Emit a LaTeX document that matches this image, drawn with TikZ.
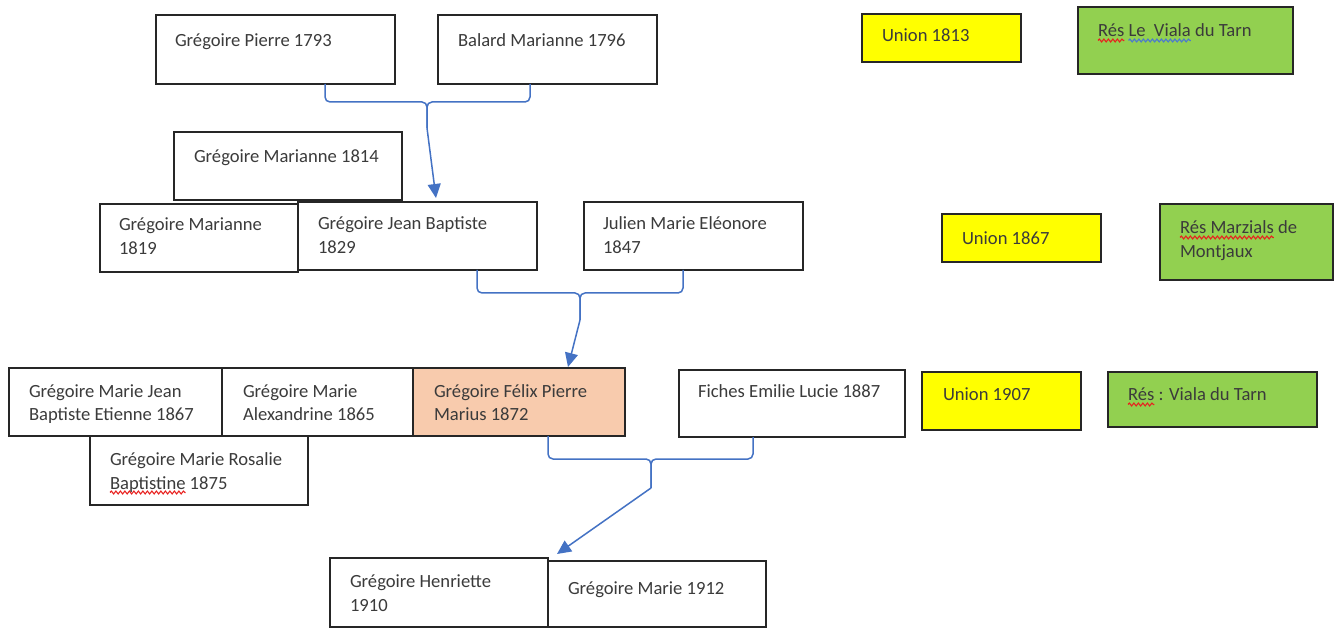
\documentclass[tikz,border=0pt]{standalone}
\usepackage{fontspec}
\setmainfont{Carlito}
\usetikzlibrary{arrows.meta,calc,decorations.pathmorphing}
\definecolor{linkblue}{HTML}{4472C4}
\definecolor{uyellow}{HTML}{FFFF00}
\definecolor{rgreen}{HTML}{92D050}
\definecolor{peach}{HTML}{F8CBAD}
\definecolor{txtgray}{HTML}{3B3B3B}
\definecolor{squigred}{HTML}{E8201E}
\definecolor{squigblue}{HTML}{4A78D0}
\newcommand\twolines[2]{\parbox[t]{300pt}{\raggedright #1\\#2}}
\newcommand\txtfont{\fontsize{18.6}{24}\selectfont}
\newlength\wRes
\newlength\wResSp
\newlength\wLeViala
\newlength\wMarz
\newlength\wBapt
\begin{document}
\settowidth{\wRes}{\txtfont Rés}
\settowidth{\wResSp}{\txtfont Rés\ }
\settowidth{\wLeViala}{\txtfont Le\ \ Viala}
\settowidth{\wMarz}{\txtfont Rés Marzials}
\settowidth{\wBapt}{\txtfont Baptistine}
\begin{tikzpicture}[x=1pt,y=-1pt,
  box/.style={draw=black!85, line width=1.4pt, fill=white, rectangle, anchor=north west, inner sep=0pt, outer sep=0pt},
  ybox/.style={box, fill=uyellow},
  gbox/.style={box, fill=rgreen},
  pbox/.style={box, fill=peach},
  txt/.style={anchor=base west, inner sep=0pt, outer sep=0pt, text=txtgray, font=\txtfont},
  link/.style={draw=linkblue, line width=1.5pt, rounded corners=5pt},
  arr/.style={draw=linkblue, line width=1.5pt, -{Triangle[length=14pt,width=13pt]}},
  squig/.style={draw=#1, line width=1.1pt, decorate, decoration={snake, segment length=4.5pt, amplitude=1.4pt}}
]
\useasboundingbox[fill=white] (0,0) rectangle (1334,628);

% generation 1
\node[box, minimum width=239pt, minimum height=69pt] (pierre) at (156,15) {};
\node[box, minimum width=219pt, minimum height=69pt] (balard) at (438,15) {};
\node[ybox, minimum width=159pt, minimum height=48pt] (u1813) at (862,14) {};
\node[gbox, minimum width=215pt, minimum height=67pt] (res1) at (1078,7) {};
\node[txt] (pierre-t) at ($(pierre.north west)+(19,32)$) {Grégoire Pierre 1793};
\node[txt] (balard-t) at ($(balard.north west)+(20,32)$) {Balard Marianne 1796};
\node[txt] (u1813-t) at ($(u1813.north west)+(20,28)$) {Union 1813};
\node[txt] (res1-t) at ($(res1.north west)+(20,30)$) {Rés Le\ \ Viala du Tarn};

% generation 2
\node[box, minimum width=228pt, minimum height=68pt] (m1814) at (174,132) {};
\node[box, minimum width=198pt, minimum height=68pt] (m1819) at (100,204) {};
\node[box, minimum width=239pt, minimum height=68pt] (jb) at (298,202) {};
\node[box, minimum width=219pt, minimum height=68pt] (julien) at (584,202) {};
\node[ybox, minimum width=159pt, minimum height=48pt] (u1867) at (942,214) {};
\node[gbox, minimum width=173pt, minimum height=76pt] (res2) at (1160,204) {};
\node[txt] (m1814-t) at ($(m1814.north west)+(20,31)$) {Grégoire Marianne 1814};
\node[txt] (m1819-t) at ($(m1819.north west)+(19,27)$) {\twolines{Grégoire Marianne}{1819}};
\node[txt] (jb-t) at ($(jb.north west)+(20,28)$) {\twolines{Grégoire Jean Baptiste}{1829}};
\node[txt] (julien-t) at ($(julien.north west)+(19,28)$) {\twolines{Julien Marie Eléonore}{1847}};
\node[txt] (u1867-t) at ($(u1867.north west)+(20,31)$) {Union 1867};
\node[txt] (res2-t) at ($(res2.north west)+(20,30)$) {\twolines{Rés Marzials de}{Montjaux}};

% generation 3
\node[box, minimum width=213pt, minimum height=68pt] (etienne) at (9,368) {};
\node[box, minimum width=191pt, minimum height=68pt] (alex) at (222,368) {};
\node[pbox, minimum width=212pt, minimum height=68pt] (felix) at (413,368) {};
\node[box, minimum width=226pt, minimum height=67pt] (fiches) at (679,370) {};
\node[ybox, minimum width=159pt, minimum height=58pt] (u1907) at (922,372) {};
\node[gbox, minimum width=209pt, minimum height=55pt] (res3) at (1108,372) {};
\node[box, minimum width=218pt, minimum height=69pt] (rosalie) at (90,436) {};
\node[txt] (etienne-t) at ($(etienne.north west)+(20,29)$) {\twolines{Grégoire Marie Jean}{Baptiste Etienne 1867}};
\node[txt] (alex-t) at ($(alex.north west)+(21,29)$) {\twolines{Grégoire Marie}{Alexandrine 1865}};
\node[txt] (felix-t) at ($(felix.north west)+(21,29)$) {\twolines{Grégoire Félix Pierre}{Marius 1872}};
\node[txt] (fiches-t) at ($(fiches.north west)+(19,28)$) {Fiches Emilie Lucie 1887};
\node[txt] (u1907-t) at ($(u1907.north west)+(21,29)$) {Union 1907};
\node[txt] (res3-t) at ($(res3.north west)+(20,29)$) {Rés : Viala du Tarn};
\node[txt] (rosalie-t) at ($(rosalie.north west)+(20,29)$) {\twolines{Grégoire Marie Rosalie}{Baptistine 1875}};

% generation 4
\node[box, minimum width=218pt, minimum height=69pt] (henriette) at (330,558) {};
\node[box, minimum width=218pt, minimum height=66pt] (marie1912) at (548,561) {};
\node[txt] (henriette-t) at ($(henriette.north west)+(20,29)$) {\twolines{Grégoire Henriette}{1910}};
\node[txt] (marie1912-t) at ($(marie1912.north west)+(20,33)$) {Grégoire Marie 1912};

% spell-check squiggles
\draw[squig=squigred] ($(res1-t.base west)+(0,3.5)$) -- ++(\wRes,0);
\draw[squig=squigblue] ($(res1-t.base west)+(\wResSp,3.5)$) -- ++(\wLeViala,0);
\draw[squig=squigred] ($(res2-t.base west)+(0,3.5)$) -- ++(\wMarz,0);
\draw[squig=squigred] ($(res3-t.base west)+(0,3.5)$) -- ++(\wRes,0);
\draw[squig=squigred] ($(rosalie-t.base west)+(0,27.5)$) -- ++(\wBapt,0);

% connectors
\coordinate (b1m) at (427,128);
\draw[link] ($(pierre.south west)+(169,0)$) -- ++(0,18) -| (b1m);
\draw[link] ($(balard.south west)+(92,0)$) -- ++(0,18) -| (b1m);
\draw[arr] (b1m) -- ($(jb.north west)+(138,-4)$);

\coordinate (b2m) at (580,320);
\draw[link] ($(jb.south west)+(179,0)$) -- ++(0,23) -| (b2m);
\draw[link] ($(julien.south west)+(99,0)$) -- ++(0,23) -| (b2m);
\draw[arr] (b2m) -- ($(felix.north west)+(155,-1)$);

\coordinate (b3m) at (651,488);
\draw[link] ($(felix.south west)+(135,0)$) -- ++(0,23) -| (b3m);
\draw[link] ($(fiches.south west)+(74,0)$) -- ++(0,22) -| (b3m);
\draw[arr] (b3m) -- ($(henriette.north east)+(9,-4)$);
\end{tikzpicture}
\end{document}
